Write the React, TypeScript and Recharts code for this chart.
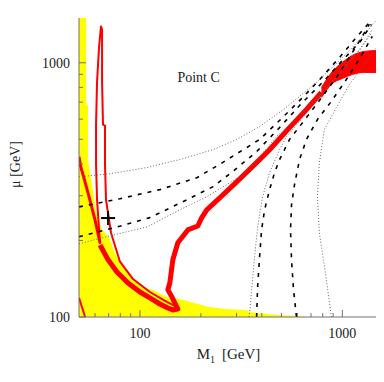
import React from "react";
import { Area, ComposedChart, Label, Line, ReferenceDot, Scatter, XAxis, YAxis } from "recharts";

const AXIS = "#707070";
const INK = "#222";
const FONT = "Liberation Serif, Times New Roman, serif";

const xTicks = [60, 70, 80, 90, 100, 200, 300, 400, 500, 600, 700, 800, 900, 1000];
const yTicks = [100, 200, 300, 400, 500, 600, 700, 800, 900, 1000];
const majorTicks = [100, 1000];

// excluded region (yellow)
const excluded = [
  { x: 50, y: 1500 }, { x: 54.2, y: 1500 }, { x: 54.2, y: 685 }, { x: 55.4, y: 685 },
  { x: 55.4, y: 416 }, { x: 58, y: 330 }, { x: 61, y: 255 }, { x: 65, y: 220 },
  { x: 70, y: 208 }, { x: 76, y: 175 }, { x: 80, y: 163 }, { x: 92.4, y: 141 },
  { x: 102, y: 131 }, { x: 116, y: 127.8 }, { x: 135.8, y: 119.9 }, { x: 164.7, y: 116.7 },
  { x: 178.3, y: 114.6 }, { x: 218.8, y: 109.5 }, { x: 265.3, y: 107.5 }, { x: 336.6, y: 106.6 },
  { x: 352.3, y: 104.5 }, { x: 484, y: 101.8 }, { x: 657, y: 100.5 }, { x: 660, y: 100 },
];

// relic density contours (red)
const redCorner = [{ x: 50, y: 119 }, { x: 53.6, y: 100 }];
const redArm = [
  { x: 50, y: 427 }, { x: 51, y: 390 }, { x: 53, y: 350 }, { x: 55.4, y: 308 },
  { x: 60, y: 241 }, { x: 63.5, y: 196 },
];
const redSpike = [
  { x: 63.5, y: 194 }, { x: 61.4, y: 289 }, { x: 60.7, y: 397 }, { x: 60.7, y: 571 },
  { x: 61.4, y: 844 }, { x: 62.8, y: 1149 }, { x: 64.2, y: 1390 }, { x: 65.0, y: 1353 },
  { x: 65.0, y: 844 }, { x: 65.7, y: 571 }, { x: 67.2, y: 566 }, { x: 67.2, y: 397 },
  { x: 68.0, y: 289 }, { x: 72.0, y: 214 }, { x: 79.7, y: 165 }, { x: 92.4, y: 141 },
  { x: 112, y: 125.4 }, { x: 135.8, y: 114.6 }, { x: 152.1, y: 109.5 },
];
const redBand = [
  { x: 63.5, y: 192 }, { x: 69.6, y: 168 }, { x: 77, y: 150.4 }, { x: 87.3, y: 136 },
  { x: 100, y: 125.4 }, { x: 112, y: 118.8 }, { x: 125.4, y: 112.5 }, { x: 137.4, y: 108.5 },
  { x: 145.4, y: 106.6 }, { x: 153.9, y: 107.5 }, { x: 143.8, y: 120 }, { x: 137.4, y: 128 },
  { x: 140.5, y: 136 }, { x: 145.4, y: 168 }, { x: 153.9, y: 196 }, { x: 172.4, y: 220 },
  { x: 193.1, y: 228 }, { x: 202.1, y: 246 }, { x: 213.8, y: 264 }, { x: 247.8, y: 294 },
  { x: 300.6, y: 340 }, { x: 390, y: 416 }, { x: 436.9, y: 455 }, { x: 548.2, y: 556 },
  { x: 665, y: 655 }, { x: 788, y: 764 },
];
const redBandEnd = [
  { x: 788, r: [730, 799] }, { x: 893, r: [829, 924] }, { x: 1000, r: [867, 1003] },
  { x: 1120, r: [899, 1069] }, { x: 1284, r: [916, 1108] }, { x: 1500, r: [916, 1118] },
];

// dashed contours
const dash1 = [
  { x: 50, y: 271 }, { x: 79.7, y: 292 }, { x: 125.4, y: 317 }, { x: 191, y: 353 },
  { x: 256, y: 405 }, { x: 336.8, y: 464 }, { x: 390, y: 499 }, { x: 495, y: 598 },
  { x: 643, y: 736 }, { x: 806, y: 891 }, { x: 978, y: 1059 }, { x: 1172, y: 1258 },
  { x: 1374, y: 1455 },
];
const dash2 = [
  { x: 50, y: 207 }, { x: 77, y: 226 }, { x: 112, y: 246 }, { x: 170.4, y: 289 },
  { x: 228.8, y: 325 }, { x: 287, y: 373 }, { x: 377, y: 447 }, { x: 489.5, y: 556 },
  { x: 621, y: 685 }, { x: 806, y: 844 }, { x: 1011, y: 1030 }, { x: 1227, y: 1213 },
  { x: 1390, y: 1416 },
];
const dash3 = [
  { x: 377, y: 100 }, { x: 381.4, y: 131.3 }, { x: 390, y: 172.4 }, { x: 399, y: 220 },
  { x: 412.9, y: 264 }, { x: 436.9, y: 317 }, { x: 462.4, y: 369.5 }, { x: 489.5, y: 416 },
  { x: 548.2, y: 499 }, { x: 665, y: 609 }, { x: 770, y: 710 }, { x: 934, y: 875 },
  { x: 1058, y: 1021 }, { x: 1212, y: 1213 }, { x: 1359, y: 1416 },
];
const dash4 = [
  { x: 593.5, y: 100 }, { x: 573.7, y: 128 }, { x: 560.9, y: 168 }, { x: 554.5, y: 220 },
  { x: 560.9, y: 276 }, { x: 580.1, y: 331 }, { x: 614.2, y: 416 }, { x: 665, y: 499 },
  { x: 753, y: 598 }, { x: 873, y: 697 }, { x: 1046, y: 859 }, { x: 1227, y: 1049 },
  { x: 1405, y: 1270 },
];

// dotted contours
const dot1 = [
  { x: 50, y: 356 }, { x: 71.1, y: 366 }, { x: 108, y: 387 }, { x: 157, y: 416 },
  { x: 229, y: 455 }, { x: 300.6, y: 499 }, { x: 390, y: 561 }, { x: 512, y: 655 },
  { x: 744, y: 836 }, { x: 903, y: 967 }, { x: 1095, y: 1128 }, { x: 1313, y: 1317 },
  { x: 1454, y: 1455 },
];
const dot2 = [
  { x: 50, y: 194 }, { x: 73.6, y: 210 }, { x: 108.3, y: 226 }, { x: 157.4, y: 264 },
  { x: 213.8, y: 297 }, { x: 311, y: 356 }, { x: 368.5, y: 405 }, { x: 473, y: 512 },
  { x: 621, y: 626 }, { x: 806, y: 764 }, { x: 1011, y: 941 }, { x: 1227, y: 1128 },
  { x: 1405, y: 1353 },
];
const dot3 = [
  { x: 345, y: 100 }, { x: 348.3, y: 103.7 }, { x: 356.3, y: 128 }, { x: 368.5, y: 172.4 },
  { x: 381.4, y: 226 }, { x: 403.6, y: 297 }, { x: 436.9, y: 369.5 }, { x: 489.5, y: 455 },
  { x: 530, y: 512 }, { x: 614.2, y: 587 }, { x: 728.1, y: 697 }, { x: 863, y: 821 },
  { x: 1023, y: 967 }, { x: 1212, y: 1128 }, { x: 1405, y: 1317 },
];
const dot4 = [
  { x: 883, y: 100 }, { x: 834, y: 140 }, { x: 770, y: 214 }, { x: 753, y: 297 },
  { x: 770, y: 405 }, { x: 815, y: 546 }, { x: 934, y: 666 }, { x: 1083, y: 821 },
  { x: 1255, y: 958 }, { x: 1487, y: 1159 },
];

const pointC = [{ x: 69.6, y: 245 }];
const caption = { x: 195, y: 880, text: "Point C" };

const BottomTick = ({ x, y, payload }: any) => {
  const major = majorTicks.includes(payload.value);
  return (
    <g>
      <line x1={x} x2={x} y1={y} y2={y - (major ? 7 : 4)} stroke={AXIS} />
      {major && (
        <text x={x} y={y + 21} textAnchor="middle" fontSize={14} fontFamily={FONT} fill={INK}>
          {payload.value}
        </text>
      )}
    </g>
  );
};

const TopTick = ({ x, y, payload }: any) => {
  const major = majorTicks.includes(payload.value);
  return <line x1={x} x2={x} y1={y} y2={y + (major ? 7 : 4)} stroke={AXIS} />;
};

const LeftTick = ({ x, y, payload }: any) => {
  const major = majorTicks.includes(payload.value);
  return (
    <g>
      <line x1={x} x2={x + (major ? 7 : 4)} y1={y} y2={y} stroke={AXIS} />
      {major && (
        <text x={x - 9} y={y + 5} textAnchor="end" fontSize={14} fontFamily={FONT} fill={INK}>
          {payload.value}
        </text>
      )}
    </g>
  );
};

const RightTick = ({ x, y, payload }: any) => {
  const major = majorTicks.includes(payload.value);
  return <line x1={x} x2={x - (major ? 7 : 4)} y1={y} y2={y} stroke={AXIS} />;
};

const Cross = ({ cx, cy }: any) => (
  <g stroke="#000" strokeWidth={2}>
    <line x1={cx - 7} x2={cx + 7} y1={cy} y2={cy} />
    <line x1={cx} x2={cx} y1={cy - 7} y2={cy + 7} />
  </g>
);

const contour = (data: any[], stroke: string, width: number, dash?: string) => (
  <Line
    data={data}
    dataKey="y"
    type="linear"
    stroke={stroke}
    strokeWidth={width}
    strokeDasharray={dash}
    strokeLinejoin="round"
    dot={false}
    activeDot={false}
    legendType="none"
    isAnimationActive={false}
  />
);

export default function App() {
  return (
    <ComposedChart width={376} height={374} margin={{ top: 10, right: 6, bottom: 20, left: 11 }}>
      <XAxis
        dataKey="x"
        type="number"
        scale="log"
        domain={[50, 1500]}
        allowDataOverflow
        ticks={xTicks}
        interval={0}
        tickSize={0}
        tickMargin={0}
        tick={BottomTick}
        stroke={AXIS}
        height={45}
      >
        <Label
          content={({ viewBox }: any) => (
            <text
              x={viewBox.x + viewBox.width / 2}
              y={viewBox.y + 42}
              textAnchor="middle"
              fontSize={15}
              fontFamily={FONT}
              fill={INK}
            >
              <tspan>M</tspan>
              <tspan dy={4} fontSize={10}>1</tspan>
              <tspan dy={-4} dx={7}>[GeV]</tspan>
            </text>
          )}
        />
      </XAxis>
      <XAxis
        xAxisId="top"
        orientation="top"
        dataKey="x"
        type="number"
        scale="log"
        domain={[50, 1500]}
        allowDataOverflow
        ticks={xTicks}
        interval={0}
        tickSize={0}
        tickMargin={0}
        tick={TopTick}
        stroke={AXIS}
        height={0}
      />
      <YAxis
        dataKey="y"
        type="number"
        scale="log"
        domain={[100, 1500]}
        allowDataOverflow
        ticks={yTicks}
        interval={0}
        tickSize={0}
        tickMargin={0}
        tick={LeftTick}
        stroke={AXIS}
        width={60}
      >
        <Label
          content={({ viewBox }: any) => {
            const cx = viewBox.x + 1;
            const cy = viewBox.y + viewBox.height / 2 - 3;
            return (
              <text
                x={cx}
                y={cy}
                transform={`rotate(-90 ${cx} ${cy})`}
                textAnchor="middle"
                fontSize={14}
                fontFamily={FONT}
                fill={INK}
              >
                μ  [GeV]
              </text>
            );
          }}
        />
      </YAxis>
      <YAxis
        yAxisId="right"
        orientation="right"
        dataKey="y"
        type="number"
        scale="log"
        domain={[100, 1500]}
        allowDataOverflow
        ticks={yTicks}
        interval={0}
        tickSize={0}
        tickMargin={0}
        tick={RightTick}
        stroke={AXIS}
        width={0}
      />

      <Area
        data={excluded}
        dataKey="y"
        type="linear"
        baseValue={100}
        fill="#ffff00"
        fillOpacity={1}
        stroke="none"
        legendType="none"
        isAnimationActive={false}
      />
      <Area
        data={redBandEnd}
        dataKey="r"
        type="monotone"
        fill="#ff0000"
        fillOpacity={1}
        stroke="#ff0000"
        strokeWidth={1}
        legendType="none"
        isAnimationActive={false}
      />
      {contour(redCorner, "#ff0000", 2)}
      {contour(redArm, "#ff0000", 3)}
      {contour(redSpike, "#ff0000", 2)}
      {contour(redBand, "#ff0000", 5)}

      {contour(dot1, "#666", 1, "1 2")}
      {contour(dot2, "#666", 1, "1 2")}
      {contour(dot3, "#666", 1, "1 2")}
      {contour(dot4, "#666", 1, "1 2")}
      {contour(dash1, "#000", 1.6, "4 6")}
      {contour(dash2, "#000", 1.6, "4 6")}
      {contour(dash3, "#000", 1.6, "4 6")}
      {contour(dash4, "#000", 1.6, "4 6")}

      <Scatter data={pointC} dataKey="y" shape={Cross} legendType="none" isAnimationActive={false} />
      <ReferenceDot
        x={caption.x}
        y={caption.y}
        r={1}
        fill="none"
        stroke="none"
        ifOverflow="visible"
        label={{ value: caption.text, position: "center", fontSize: 14, fontFamily: FONT, fill: INK }}
      />
    </ComposedChart>
  );
}
